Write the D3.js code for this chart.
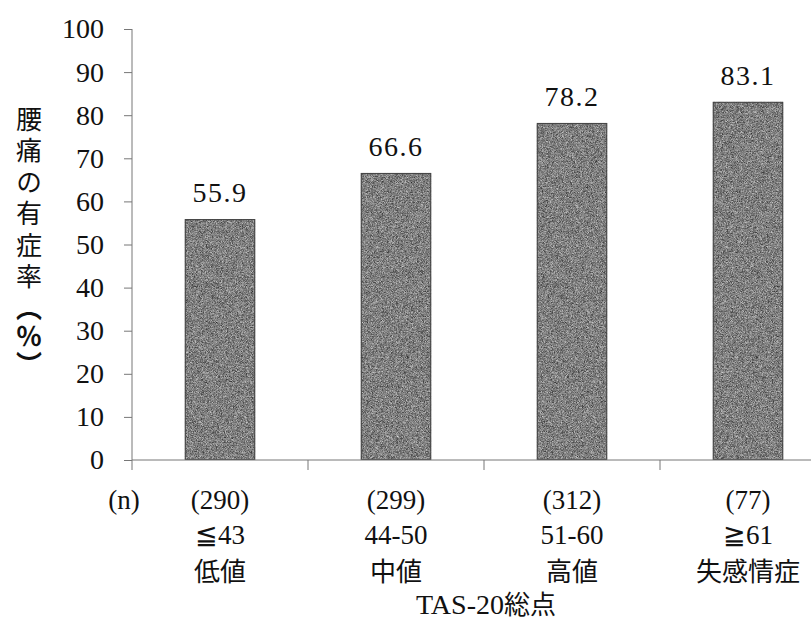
<!DOCTYPE html>
<html><head><meta charset="utf-8">
<script src="https://cdn.jsdelivr.net/npm/d3@7"></script>
<style>
html,body{margin:0;padding:0;background:#fff;}
svg{display:block;}
</style></head>
<body>
<svg id="chart" width="811" height="632"></svg>
<script>
const categories = ["≦43", "44-50", "51-60", "≧61"];
const groupNames = ["低値", "中値", "高値", "失感情症"];
const sampleSizes = ["(290)", "(299)", "(312)", "(77)"];
const values = [55.9, 66.6, 78.2, 83.1];
const yTicks = [0, 10, 20, 30, 40, 50, 60, 70, 80, 90, 100];
const yTitleMain = "腰痛の有症率";
const yTitleUnit = "︵％︶";
const xTitleLatin = "TAS-20";
const xTitleCJK = "総点";

const svg = d3.select("#chart");
const serif = "'Liberation Serif', 'DejaVu Serif', serif";
const cjk = "'Noto Sans CJK JP', 'Noto Sans CJK SC', sans-serif";

const defs = svg.append("defs");
const f = defs.append("filter").attr("id", "grain").attr("x", 0).attr("y", 0)
  .attr("width", "100%").attr("height", "100%").attr("color-interpolation-filters", "sRGB");
f.append("feTurbulence").attr("type", "fractalNoise").attr("baseFrequency", 2.2).attr("numOctaves", 1).attr("seed", 4).attr("result", "n");
f.append("feColorMatrix").attr("in", "n").attr("type", "saturate").attr("values", 0).attr("result", "g");
const ct = f.append("feComponentTransfer").attr("in", "g").attr("result", "c");
["feFuncR", "feFuncG", "feFuncB"].forEach(k => ct.append(k).attr("type", "linear").attr("slope", 1.2).attr("intercept", -0.1));
ct.append("feFuncA").attr("type", "linear").attr("slope", 0).attr("intercept", 1);
f.append("feComposite").attr("in", "c").attr("in2", "SourceGraphic").attr("operator", "in");

const y = d3.scaleLinear().domain([0, 100]).range([460, 29]);
const x = d3.scaleBand().domain(categories).range([132, 836]).paddingInner(0.6).paddingOuter(0.3);
const step = x.step();

// y axis
const yAxis = svg.append("g").attr("transform", "translate(132,0)")
  .call(d3.axisLeft(y).tickValues(yTicks).tickSize(8).tickPadding(20));
yAxis.select(".domain").remove();
yAxis.selectAll(".tick line").attr("stroke", "#777");
yAxis.selectAll(".tick text").attr("font-family", serif).attr("font-size", 28).attr("fill", "#111");
svg.append("line").attr("x1", 132).attr("x2", 132).attr("y1", y(100)).attr("y2", y(0) + 10).attr("stroke", "#777");

// bars
svg.append("g").selectAll("rect").data(values).join("rect")
  .attr("x", (d, i) => x(categories[i])).attr("width", x.bandwidth())
  .attr("y", d => y(d)).attr("height", d => y(0) - y(d))
  .attr("fill", "#777").attr("filter", "url(#grain)");
svg.append("g").selectAll("rect").data(values).join("rect")
  .attr("x", (d, i) => x(categories[i]) + 0.5).attr("width", x.bandwidth() - 1)
  .attr("y", d => y(d) + 0.5).attr("height", d => y(0) - y(d) - 1)
  .attr("fill", "none").attr("stroke", "#444").attr("stroke-width", 1);

// x axis line and ticks between bands
svg.append("line").attr("x1", 132).attr("x2", 811).attr("y1", y(0)).attr("y2", y(0)).attr("stroke", "#777");
svg.append("g").selectAll("line").data(categories.slice(1)).join("line")
  .attr("x1", d => x(d) - step * 0.3).attr("x2", d => x(d) - step * 0.3)
  .attr("y1", y(0)).attr("y2", y(0) + 10).attr("stroke", "#777");

// value labels
svg.append("g").selectAll("text").data(values).join("text")
  .attr("x", (d, i) => x(categories[i]) + x.bandwidth() / 2)
  .attr("y", d => y(d) - 17)
  .attr("text-anchor", "middle").attr("font-family", serif).attr("font-size", 28)
  .attr("letter-spacing", 1.5).attr("fill", "#111")
  .text(d => d.toFixed(1));

// category labels
const cx = i => x(categories[i]) + x.bandwidth() / 2;
svg.append("text").attr("x", 124).attr("y", 509).attr("text-anchor", "middle")
  .attr("font-family", serif).attr("font-size", 27).attr("fill", "#111").text("(n)");
svg.append("g").selectAll("text").data(sampleSizes).join("text")
  .attr("x", (d, i) => cx(i)).attr("y", 509).attr("text-anchor", "middle")
  .attr("font-family", serif).attr("font-size", 27).attr("fill", "#111").text(d => d);
svg.append("g").selectAll("text").data(categories).join("text")
  .attr("x", (d, i) => cx(i)).attr("y", 544).attr("text-anchor", "middle")
  .attr("font-family", serif).attr("font-size", 27).attr("fill", "#111").text(d => d);
svg.append("g").selectAll("text").data(groupNames).join("text")
  .attr("x", (d, i) => cx(i)).attr("y", 581).attr("text-anchor", "middle")
  .attr("font-family", cjk).attr("font-size", 26).attr("fill", "#111").text(d => d);

// x title
const xt = svg.append("text").attr("x", 486).attr("y", 614).attr("text-anchor", "middle")
  .attr("font-size", 28).attr("fill", "#111");
xt.append("tspan").attr("font-family", serif).text(xTitleLatin);
xt.append("tspan").attr("font-family", cjk).attr("font-size", 26).text(xTitleCJK);

// y title (vertical)
const ytt = svg.append("text").attr("x", 29).attr("y", 106)
  .style("writing-mode", "vertical-rl").style("text-orientation", "upright")
  .attr("font-family", cjk).attr("font-size", 26).attr("fill", "#111");
ytt.append("tspan").attr("letter-spacing", 5.5).text(yTitleMain);
ytt.append("tspan").attr("letter-spacing", 2).attr("font-weight", "bold").text(yTitleUnit);
</script>
</body></html>
